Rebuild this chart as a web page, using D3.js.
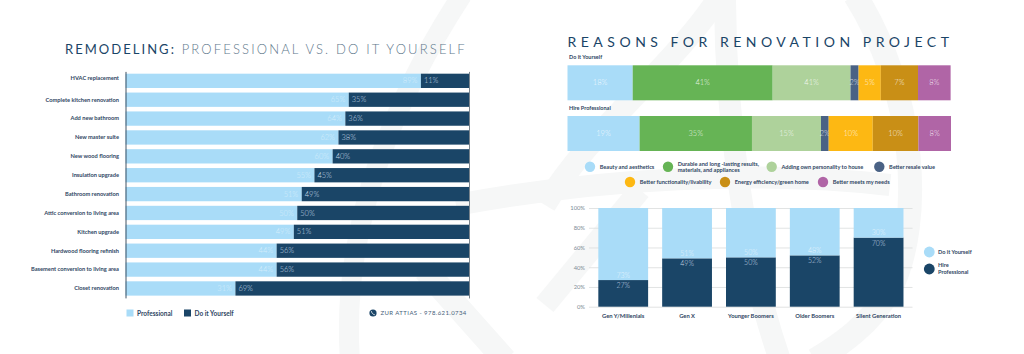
<!DOCTYPE html>
<html>
<head>
<meta charset="utf-8">
<script src="https://cdn.jsdelivr.net/npm/d3@7"></script>
<style>
body { margin: 0; background: #fff; }
text { font-family: Lato, sans-serif; }
</style>
</head>
<body>
<script>
// remodeling chart
var projects = ["HVAC replacement", "Complete kitchen renovation", "Add new bathroom", "New master suite",
    "New wood flooring", "Insulation upgrade", "Bathroom renovation", "Attic conversion to living area",
    "Kitchen upgrade", "Hardwood flooring refinish", "Basement conversion to living area", "Closet renovation"];
// bar lengths as drawn, the printed labels do not always agree with them
var proShare = [86, 65, 64, 62, 60.3, 55, 51.3, 50, 49, 44, 44, 32];
var proLabels = ["89%", "65%", "64%", "62%", "60%", "55%", "51%", "50%", "49%", "44%", "44%", "31%"];
var diyLabels = ["11%", "35%", "36%", "38%", "40%", "45%", "49%", "50%", "51%", "56%", "56%", "69%"];

// reasons chart
var reasons = ["Beauty and aesthetics", "Durable and long -lasting results,|materials, and appliances",
    "Adding own personality to house", "Better resale value", "Better functionality/livability",
    "Energy efficiency/green home", "Better meets my needs"];
var reasonColors = ["#a9dcf8", "#66b455", "#aed29b", "#4a6285", "#fdb813", "#c98f16", "#b065a6"];
var diyReasonShare = [17, 36.5, 20.3, 2.1, 5.8, 9.7, 8.5];
var hireReasonShare = [18.8, 29.3, 18, 2, 11.5, 11.9, 8.5];
var diyReasonLabels = ["18%", "41%", "41%", "2%", "5%", "7%", "8%"];
var hireReasonLabels = ["19%", "35%", "15%", "2%", "10%", "10%", "8%"];

// generation chart
var generations = ["Gen Y/Millenials", "Gen X", "Younger Boomers", "Older Boomers", "Silent Generation"];
var genHire = [27, 49, 50, 52, 70];
var genDiy = [73, 51, 50, 48, 30];
var genTicks = [0, 20, 40, 60, 80, 100];

var LIGHT = "#a9dcf8", DARK = "#1a4567", INK = "#2f4663";

var svg = d3.select("body").append("svg")
    .attr("width", 1024)
    .attr("height", 354)
    .style("display", "block");

// watermark behind everything
var marks = svg.append("g").attr("fill", "none").attr("stroke", "#f6f7f7");
marks.append("path").attr("stroke-width", 20).attr("d", "M462 -5C400 90 340 220 350 360");
marks.append("path").attr("stroke-width", 24).attr("d", "M425 270L505 360");
marks.append("path").attr("stroke-width", 22).attr("d", "M456 205C600 178 760 170 890 185");
marks.append("path").attr("stroke-width", 22).attr("d", "M720 -5C680 60 590 130 545 205");
marks.append("path").attr("stroke-width", 22).attr("d", "M640 190L545 305");
marks.append("path").attr("stroke-width", 22).attr("d", "M725 -5C725 120 745 260 780 360");
marks.append("path").attr("stroke-width", 24).attr("d", "M855 -5C915 90 925 220 890 290C870 325 840 345 815 360");

// left chart
var xLeft = d3.scaleLinear().domain([0, 100]).range([125.5, 469]);
var yLeft = d3.scaleBand().domain(projects).range([71.4, 297.9]).paddingInner(0.242).paddingOuter(0.121);

svg.append("text").attr("x", 65).attr("y", 53.5)
    .attr("font-size", 13).attr("letter-spacing", 2.04).attr("fill", "#60788c")
    .call(function (t) {
        t.append("tspan").attr("fill", DARK).text("REMODELING:");
        t.append("tspan").attr("font-weight", 300).attr("letter-spacing", 2.16)
            .text(" PROFESSIONAL VS. DO IT YOURSELF");
    });

var rows = svg.append("g").selectAll("g").data(projects).enter().append("g");
rows.append("rect")
    .attr("x", xLeft(0))
    .attr("y", function (d) { return yLeft(d); })
    .attr("width", function (d, i) { return xLeft(proShare[i]) - xLeft(0); })
    .attr("height", yLeft.bandwidth())
    .attr("fill", LIGHT);
rows.append("rect")
    .attr("x", function (d, i) { return xLeft(proShare[i]); })
    .attr("y", function (d) { return yLeft(d); })
    .attr("width", function (d, i) { return xLeft(100) - xLeft(proShare[i]); })
    .attr("height", yLeft.bandwidth())
    .attr("fill", DARK);
rows.append("text")
    .attr("x", function (d, i) { return xLeft(proShare[i]) - 3.5; })
    .attr("y", function (d) { return yLeft(d) + yLeft.bandwidth() / 2 + 2.6; })
    .attr("text-anchor", "end").attr("font-size", 7.5).attr("font-weight", 300).attr("fill", "#d4edfb")
    .text(function (d, i) { return proLabels[i]; });
rows.append("text")
    .attr("x", function (d, i) { return xLeft(proShare[i]) + 3; })
    .attr("y", function (d) { return yLeft(d) + yLeft.bandwidth() / 2 + 2.6; })
    .attr("font-size", 7.5).attr("font-weight", 300).attr("fill", "#c3d6e4")
    .text(function (d, i) { return diyLabels[i]; });

var leftAxis = svg.append("g").attr("transform", "translate(125.5,0)")
    .call(d3.axisLeft(yLeft).tickSize(0).tickPadding(6.5));
leftAxis.select(".domain").attr("stroke", "#2d3f50").attr("stroke-width", 0.9);
leftAxis.selectAll("text").attr("font-size", 5.7).attr("font-weight", 700).attr("fill", INK)
    .attr("font-family", "Lato, sans-serif")
    .attr("dy", function (d, i) { return i === 0 ? "-0.15em" : "0.32em"; });
svg.append("g").attr("transform", "translate(469,0)")
    .call(d3.axisRight(yLeft).tickSize(0).tickFormat(""))
    .select(".domain").attr("stroke", "#6a7680").attr("stroke-width", 0.9);

// left legend
var leftKeys = [["Professional", LIGHT, 126.5], ["Do it Yourself", DARK, 184]];
leftKeys.forEach(function (k) {
    svg.append("rect").attr("x", k[2]).attr("y", 309.5).attr("width", 7).attr("height", 7).attr("fill", k[1]);
    svg.append("text").attr("x", k[2] + 10.5).attr("y", 315.5)
        .attr("font-size", 6.5).attr("font-weight", 700).attr("fill", INK).text(k[0]);
});

// phone line
svg.append("circle").attr("cx", 373).attr("cy", 313).attr("r", 3.6).attr("fill", DARK);
svg.append("path").attr("d", "M371.4 311.2c.3 1.9 1.5 3.2 3.4 3.6").attr("fill", "none").attr("stroke", "#fff").attr("stroke-width", 0.8);
svg.append("text").attr("x", 380.5).attr("y", 315.2)
    .attr("font-size", 6).attr("letter-spacing", 0.42).attr("fill", "#47617a").text("ZUR ATTIAS - 978.621.0734");

// reasons chart
svg.append("text").attr("x", 567.5).attr("y", 46.5)
    .attr("font-size", 14).attr("letter-spacing", 4.5).attr("fill", DARK).text("REASONS FOR RENOVATION PROJECT");

var xReason = d3.scaleLinear().domain([0, 100]).range([567.5, 951]);

function stackRow(title, share, labels, top) {
    var sum = 0;
    var starts = share.map(function (v) { var s = sum; sum += v; return s; });
    svg.append("text").attr("x", 569).attr("y", top - 6.3)
        .attr("font-size", 5.5).attr("font-weight", 700).attr("fill", INK).text(title);
    var g = svg.append("g").selectAll("g").data(share).enter().append("g");
    g.append("rect")
        .attr("x", function (d, i) { return xReason(starts[i]); })
        .attr("y", top)
        .attr("width", function (d) { return xReason(d) - xReason(0); })
        .attr("height", 35)
        .attr("fill", function (d, i) { return reasonColors[i]; });
    g.append("text")
        .attr("x", function (d, i) { return xReason(starts[i] + d / 2); })
        .attr("y", top + 20)
        .attr("text-anchor", "middle").attr("font-size", 7.5).attr("font-weight", 300)
        .attr("fill", "#fff").attr("fill-opacity", 0.85)
        .text(function (d, i) { return labels[i]; });
}
stackRow("Do it Yourself", diyReasonShare, diyReasonLabels, 65.3);
stackRow("Hire Professional", hireReasonShare, hireReasonLabels, 116);

// reasons legend, circle centre and row come from the layout of the original
var keyX = [590, 668, 771.7, 879.3, 630, 725, 823];
var keyY = [166.7, 166.7, 166.7, 166.7, 182, 182, 182];
reasons.forEach(function (r, i) {
    svg.append("circle").attr("cx", keyX[i]).attr("cy", keyY[i]).attr("r", 5.2).attr("fill", reasonColors[i]);
    var lines = r.split("|");
    lines.forEach(function (line, j) {
        svg.append("text").attr("x", keyX[i] + 9.7)
            .attr("y", keyY[i] + 2.1 + (lines.length > 1 ? (j === 0 ? -2.9 : 3.4) : 0))
            .attr("font-size", 5.6).attr("font-weight", 700).attr("fill", INK).text(line);
    });
});

// generation chart
var xGen = d3.scaleBand().domain(generations).range([591.3, 910.5]).paddingInner(0.22).paddingOuter(0.11);
var yGen = d3.scaleLinear().domain([0, 100]).range([306.7, 208]);

var grid = svg.append("g").attr("transform", "translate(589,0)")
    .call(d3.axisLeft(yGen).tickValues(genTicks).tickSize(-323.5).tickPadding(4)
        .tickFormat(function (d) { return d + "%"; }));
grid.select(".domain").remove();
grid.selectAll("line").attr("stroke", "#d9dcdc").attr("stroke-width", 0.8);
grid.selectAll("text").attr("font-size", 5.8).attr("fill", "#7d8b96").attr("font-family", "Lato, sans-serif");

var stacked = d3.stack().keys(["hire", "diy"])(generations.map(function (g, i) {
    return { name: g, hire: genHire[i], diy: genDiy[i] };
}));
svg.append("g").selectAll("g").data(stacked).enter().append("g")
    .attr("fill", function (d) { return d.key === "hire" ? DARK : LIGHT; })
    .selectAll("rect").data(function (d) { return d; }).enter().append("rect")
    .attr("x", function (d) { return xGen(d.data.name); })
    .attr("y", function (d) { return yGen(d[1]); })
    .attr("width", xGen.bandwidth())
    .attr("height", function (d) { return yGen(d[0]) - yGen(d[1]); });

generations.forEach(function (g, i) {
    var cx = xGen(g) + xGen.bandwidth() / 2;
    svg.append("text").attr("x", cx).attr("y", yGen(genHire[i]) + 8)
        .attr("text-anchor", "middle").attr("font-size", 7).attr("font-weight", 300).attr("fill", "#c3d6e4").text(genHire[i] + "%");
    svg.append("text").attr("x", cx).attr("y", yGen(genHire[i]) - 2.4)
        .attr("text-anchor", "middle").attr("font-size", 7).attr("font-weight", 300).attr("fill", "#e3f3fc").text(genDiy[i] + "%");
});

var genAxis = svg.append("g").attr("transform", "translate(0,306.7)")
    .call(d3.axisBottom(xGen).tickSize(0).tickPadding(7.5));
genAxis.select(".domain").remove();
genAxis.selectAll("text").attr("font-size", 5.8).attr("font-weight", 700).attr("fill", INK)
    .attr("font-family", "Lato, sans-serif");

// generation legend
svg.append("circle").attr("cx", 929.3).attr("cy", 252).attr("r", 5.4).attr("fill", LIGHT);
svg.append("circle").attr("cx", 929.3).attr("cy", 269).attr("r", 5.4).attr("fill", DARK);
[["Do it Yourself", 254.3], ["Hire", 267], ["Professional", 273.6]].forEach(function (k) {
    svg.append("text").attr("x", 938).attr("y", k[1])
        .attr("font-size", 5.6).attr("font-weight", 700).attr("fill", INK).text(k[0]);
});
</script>
</body>
</html>
